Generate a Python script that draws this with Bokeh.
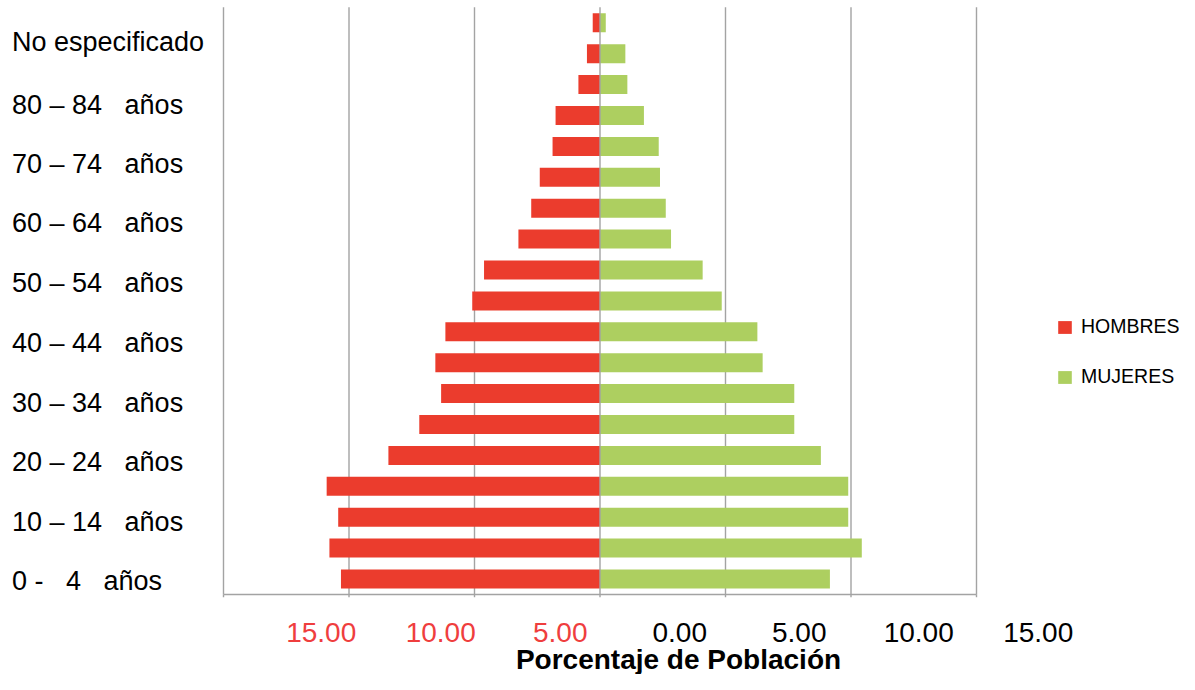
import numpy as np
from bokeh.plotting import figure
from bokeh.models import Range1d, ColumnDataSource, Legend, LegendItem
from bokeh.core.properties import value
from bokeh.embed import file_html
from bokeh.resources import INLINE

# ---------------- data ----------------
categories = ["0 - 4", "5 - 9", "10 - 14", "15 - 19", "20 - 24", "25 - 29",
              "30 - 34", "35 - 39", "40 - 44", "45 - 49", "50 - 54", "55 - 59",
              "60 - 64", "65 - 69", "70 - 74", "75 - 79", "80 - 84", "85 y más",
              "No especificado"]
hombres = [10.32, 10.78, 10.43, 10.89, 8.43, 7.20, 6.33, 6.56, 6.16, 5.09,
           4.62, 3.25, 2.74, 2.40, 1.89, 1.77, 0.86, 0.52, 0.29]
mujeres = [9.16, 10.43, 9.89, 9.89, 8.80, 7.74, 7.74, 6.48, 6.27, 4.85,
           4.09, 2.83, 2.62, 2.39, 2.34, 1.75, 1.09, 1.01, 0.23]
y_labels = ["0 -   4   años", "10 – 14   años", "20 – 24   años",
            "30 – 34   años", "40 – 44   años", "50 – 54   años",
            "60 – 64   años", "70 – 74   años", "80 – 84   años",
            "No especificado"]
x_tick_labels = ["15.00", "10.00", "5.00", "0.00", "5.00", "10.00", "15.00"]
grid_values = [-15, -10, -5, 0, 5, 10, 15]
series_names = ["HOMBRES", "MUJERES"]
x_title = "Porcentaje de Población"

# ---------------- styles / layout ----------------
RED = "#EB3C2D"
GREEN = "#ADCF60"
GRID = "#A3A3A3"
LABEL_RED = "#EF3E3E"
FONT = "Liberation Sans"

W, H = 1179, 674
PX = 25.1      # pixels per percentage unit
PY = 30.9      # pixels per category
X0 = 599.5     # canvas x of value 0
Y0 = 578.5     # canvas y (from top) of first category
TSHIFT = 10    # compensation for text baseline placement

# pixel baselines of the category labels
ylab_px = [590.5, 531, 471.7, 412.3, 352.7, 292.5, 232.7, 173.3, 114, 51]


def dx(px):
    return (px - X0) / PX


def dy(py):
    return (Y0 - py) / PY


p = figure(width=W, height=H, output_backend="svg", toolbar_location=None,
           x_range=Range1d(-X0 / PX, (W - X0) / PX),
           y_range=Range1d((Y0 - H) / PY, Y0 / PY),
           x_axis_location=None, y_axis_location=None,
           min_border=0, outline_line_color=None)
p.grid.visible = False
p.background_fill_color = "white"
p.border_fill_color = "white"

n = len(categories)
idx = np.arange(n)
top = n - 0.5
bottom = -0.5

# grid lines (except centre) behind bars
side_grid = [g for g in grid_values if g != 0]
p.segment(x0=side_grid, y0=[bottom] * len(side_grid), x1=side_grid,
          y1=[top] * len(side_grid), line_color=GRID, line_width=1.4)
# small tick marks below the bottom line
p.segment(x0=grid_values, y0=[bottom] * len(grid_values), x1=grid_values,
          y1=[bottom - 0.09] * len(grid_values), line_color=GRID, line_width=1.4)
# bottom line
p.segment(x0=[grid_values[0]], y0=[bottom], x1=[grid_values[-1]], y1=[bottom],
          line_color=GRID, line_width=1.4)

src = ColumnDataSource(dict(y=idx, h=-np.array(hombres), m=np.array(mujeres),
                            cat=categories))
bar_h = 0.615
rh = p.hbar(y="y", left="h", right=0, height=bar_h, source=src,
            fill_color=RED, line_color=None)
rm = p.hbar(y="y", left=0, right="m", height=bar_h, source=src,
            fill_color=GREEN, line_color=None)

# centre line on top
p.segment(x0=[0], y0=[bottom], x1=[0], y1=[top], line_color=GRID, line_width=1.4)

# y category labels (every other category)
p.text(x=[dx(11.5)] * len(y_labels), y=[dy(v - TSHIFT) for v in ylab_px],
       text=[s.replace(" ", "\u00a0") for s in y_labels],
       text_font=value(FONT), text_font_size=value("27px"),
       text_align="left", text_baseline="alphabetic", text_color="black")

# x tick labels
xt_src = ColumnDataSource(dict(
    x=[dx(320.7 + 119.5 * k) for k in range(len(x_tick_labels))],
    y=[dy(641.5 - TSHIFT)] * len(x_tick_labels),
    t=x_tick_labels,
    c=[LABEL_RED] * 3 + ["black"] * 4))
p.text(x="x", y="y", text="t", text_color="c", source=xt_src,
       text_font=value(FONT), text_font_size=value("28px"),
       text_align="center", text_baseline="alphabetic")

# axis title
p.text(x=[dx(678)], y=[dy(668.5 - TSHIFT)], text=[x_title],
       text_font=value(FONT), text_font_size=value("28px"),
       text_font_style="bold", text_align="center",
       text_baseline="alphabetic", text_color="black")

legend = Legend(items=[LegendItem(label=series_names[0], renderers=[rh]),
                       LegendItem(label=series_names[1], renderers=[rm])],
                location=(1056, 286), orientation="vertical",
                padding=0, margin=0, spacing=27,
                glyph_width=17, glyph_height=16, label_height=16,
                label_standoff=8, label_text_font=FONT,
                label_text_font_size="19.5px", label_text_color="black",
                border_line_color=None, background_fill_alpha=0)
p.add_layout(legend)

open("out.html", "w").write(file_html(p, INLINE))
